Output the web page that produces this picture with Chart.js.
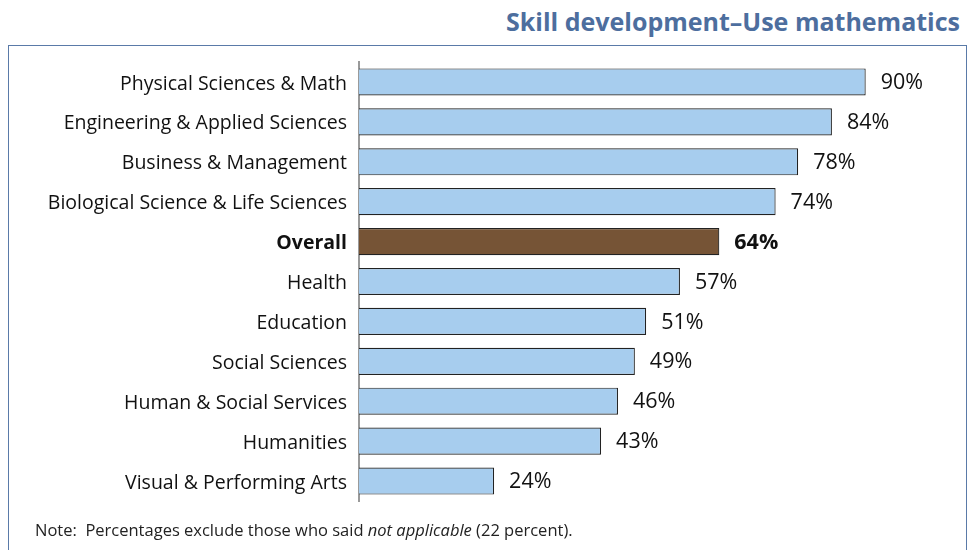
<!DOCTYPE html>
<html>
<head>
<meta charset="utf-8">
<script src="https://cdn.jsdelivr.net/npm/chart.js@4/dist/chart.umd.min.js"></script>
<style>
  html, body { margin: 0; padding: 0; background: #fff; }
  #wrap { position: relative; width: 969px; height: 550px; overflow: hidden; font-family: "Open Sans", sans-serif; }
  #title { position: absolute; right: 9px; top: 4px; font-size: 25px; font-weight: bold; color: #4d6e9e; white-space: nowrap; }
  #frame { position: absolute; left: 8px; top: 45px; width: 957px; height: 540px; border: 1.5px solid #5a7aa8; }
  #note { position: absolute; left: 35px; top: 518px; font-size: 16.5px; color: #222; }
  canvas { position: absolute; left: 0; top: 0; }
</style>
</head>
<body>
<div id="wrap">
  <div id="title">Skill development–Use mathematics</div>
  <div id="frame"></div>
  <canvas id="chart" width="969" height="550"></canvas>
  <div id="note">Note:&nbsp; Percentages exclude those who said <i>not applicable</i> (22 percent).</div>
</div>
<script>
// Fields of study and share who reported developing the skill
const fields = [
  'Physical Sciences & Math',
  'Engineering & Applied Sciences',
  'Business & Management',
  'Biological Science & Life Sciences',
  'Overall',
  'Health',
  'Education',
  'Social Sciences',
  'Human & Social Services',
  'Humanities',
  'Visual & Performing Arts'
];
const percents = [90, 84, 78, 74, 64, 57, 51, 49, 46, 43, 24];
const overallLabel = 'Overall';

const barColors = fields.map(f => f === overallLabel ? '#765436' : '#a7cdee');

// Writes "NN%" just past the end of each bar
const valueLabels = {
  id: 'valueLabels',
  afterDatasetsDraw(chart) {
    const ctx = chart.ctx;
    const meta = chart.getDatasetMeta(0);
    ctx.save();
    ctx.textBaseline = 'middle';
    ctx.textAlign = 'left';
    meta.data.forEach((bar, i) => {
      const bold = fields[i] === overallLabel;
      ctx.font = (bold ? 'bold ' : '') + '21.5px "Open Sans", sans-serif';
      ctx.fillStyle = '#111';
      ctx.fillText(percents[i] + '%', bar.x + 15, bar.y + 1);
    });
    ctx.restore();
  }
};

new Chart(document.getElementById('chart'), {
  type: 'bar',
  data: {
    labels: fields,
    datasets: [{
      data: percents,
      backgroundColor: barColors,
      borderColor: '#222',
      borderWidth: 1.2,
      borderSkipped: 'start',
      categoryPercentage: 1,
      barPercentage: 0.68
    }]
  },
  options: {
    indexAxis: 'y',
    responsive: false,
    animation: false,
    layout: { padding: { top: 62, bottom: 49, right: 47, left: 0 } },
    plugins: { legend: { display: false }, tooltip: { enabled: false } },
    scales: {
      x: { display: false, min: 0, max: 100 },
      y: {
        afterFit(scale) { scale.width = 359; },
        grid: { display: false, drawTicks: false },
        border: { display: true, color: '#9a9a9a', width: 2 },
        ticks: {
          padding: 12,
          labelOffset: 2,
          color: '#111',
          font: (c) => ({
            family: '"Open Sans", sans-serif',
            size: 19.5,
            weight: fields[c.index] === overallLabel ? 'bold' : 'normal'
          })
        }
      }
    }
  },
  plugins: [valueLabels]
});
</script>
</body>
</html>
